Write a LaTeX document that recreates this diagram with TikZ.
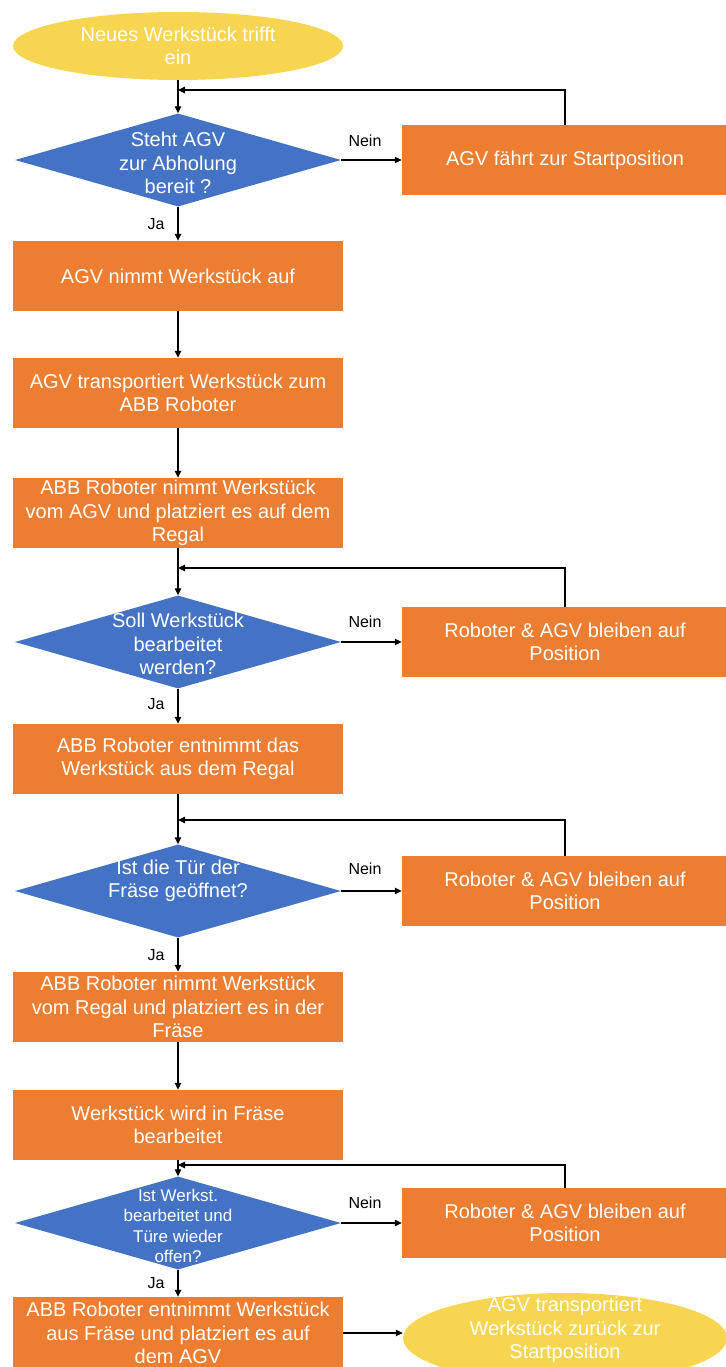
\documentclass[tikz,border=0pt]{standalone}
\usepackage{fontspec}
\setmainfont{Liberation Sans}
\usetikzlibrary{shapes.geometric,arrows.meta}

\definecolor{procorange}{HTML}{ED7D31}
\definecolor{decblue}{HTML}{4472C4}
\definecolor{termyellow}{HTML}{F8D551}

\begin{document}
\begin{tikzpicture}[x=1pt,y=-1pt,
  proc/.style={rectangle, fill=procorange, minimum width=330pt, minimum height=70pt,
    inner sep=0pt, text=white, align=center, font=\fontsize{20}{23.5}\selectfont},
  sideproc/.style={proc, minimum width=326pt},
  term/.style={ellipse, fill=termyellow, inner sep=0pt},
  termtext/.style={text=white, align=center, font=\fontsize{20}{23.5}\selectfont},
  dec/.style={diamond, fill=decblue, minimum width=326pt, minimum height=93pt, inner sep=0pt},
  dectext/.style={text=white, align=center, inner sep=0pt, font=\fontsize{20}{23.5}\selectfont},
  flow/.style={draw=black, line width=1.2pt, -{Triangle[length=7pt,width=6.5pt]}},
  lbl/.style={text=black, inner sep=0pt, font=\fontsize{16}{18}\selectfont}
]
% canvas
\fill[white] (0,0) rectangle (725,1367);
\useasboundingbox (0,0) rectangle (725,1367);

% start terminal
\node[term, minimum width=330pt, minimum height=68pt] (start) at (178,46) {};
\node[termtext] (startt) at (start) {Neues Werkstück trifft\\ein};

% decision 1
\node[dec] (d1) at (178,160) {};
\node[dectext] (d1t) at (178,163) {Steht AGV\\zur Abholung\\bereit ?};
\node[sideproc] (r1) at (565,160) {AGV fährt zur Startposition};

\node[proc] (b1) at (178,276) {AGV nimmt Werkstück auf};
\node[proc] (b2) at (178,393) {AGV transportiert Werkstück zum\\ABB Roboter};
\node[proc] (b3) at (178,513) {ABB Roboter nimmt Werkstück\\vom AGV und platziert es auf dem\\Regal};

% decision 2
\node[dec] (d2) at (178,642) {};
\node[dectext] (d2t) at (178,644) {Soll Werkstück\\bearbeitet\\werden?};
\node[sideproc] (r2) at (565,642) {Roboter \& AGV bleiben auf\\Position};

\node[proc] (b4) at (178,759) {ABB Roboter entnimmt das\\Werkstück aus dem Regal};

% decision 3
\node[dec] (d3) at (178,891) {};
\node[dectext] (d3t) at (178,881) {Ist die Tür der\\Fräse geöffnet?};
\node[sideproc] (r3) at (565,891) {Roboter \& AGV bleiben auf\\Position};

\node[proc] (b5) at (178,1007) {ABB Roboter nimmt Werkstück\\vom Regal und platziert es in der\\Fräse};
\node[proc] (b6) at (178,1125) {Werkstück wird in Fräse\\bearbeitet};

% decision 4
\node[dec] (d4) at (178,1223) {};
\node[dectext, font=\fontsize{17}{20.5}\selectfont] (d4t) at (178,1226) {Ist Werkst.\\bearbeitet und\\Türe wieder\\offen?};
\node[sideproc] (r4) at (565,1223) {Roboter \& AGV bleiben auf\\Position};

\node[proc, minimum height=72pt] (b7) at (178,1333) {ABB Roboter entnimmt Werkstück\\aus Fräse und platziert es auf\\dem AGV};

% end terminal
\node[term, minimum width=324pt, minimum height=90pt] (stop) at (565,1338) {};
\node[termtext] (stopt) at (565,1330) {AGV transportiert\\Werkstück zurück zur\\Startposition};

% loop-back junctions on the main line
\coordinate (j1) at (178,90);
\coordinate (j2) at (178,568);
\coordinate (j3) at (178,820);
\coordinate (j4) at (178,1165);

% main flow
\draw[flow] (start) -- (d1);
\draw[flow] (d1) -- (b1);
\draw[flow] (b1) -- (b2);
\draw[flow] (b2) -- (b3);
\draw[flow] (b3) -- (d2);
\draw[flow] (d2) -- (b4);
\draw[flow] (b4) -- (d3);
\draw[flow] (d3) -- (b5);
\draw[flow] (b5) -- (b6);
\draw[flow] (b6) -- (d4);
\draw[flow] (d4) -- (b7);
\draw[flow] (b7.east) -- (b7.east -| stop.west);

% "Nein" branches
\draw[flow] (d1.east) -- (r1.west);
\draw[flow] (d2.east) -- (r2.west);
\draw[flow] (d3.east) -- (r3.west);
\draw[flow] (d4.east) -- (r4.west);

% loops back to the decisions
\draw[flow] (r1.north) |- (j1);
\draw[flow] (r2.north) |- (j2);
\draw[flow] (r3.north) |- (j3);
\draw[flow] (r4.north) |- (j4);

% branch labels
\node[lbl] (n1) at (365,141) {Nein};
\node[lbl] (n2) at (365,622) {Nein};
\node[lbl] (n3) at (365,869) {Nein};
\node[lbl] (n4) at (365,1203) {Nein};
\node[lbl] (y1) at (156,224) {Ja};
\node[lbl] (y2) at (156,704) {Ja};
\node[lbl] (y3) at (156,955) {Ja};
\node[lbl] (y4) at (156,1283) {Ja};
\end{tikzpicture}
\end{document}
